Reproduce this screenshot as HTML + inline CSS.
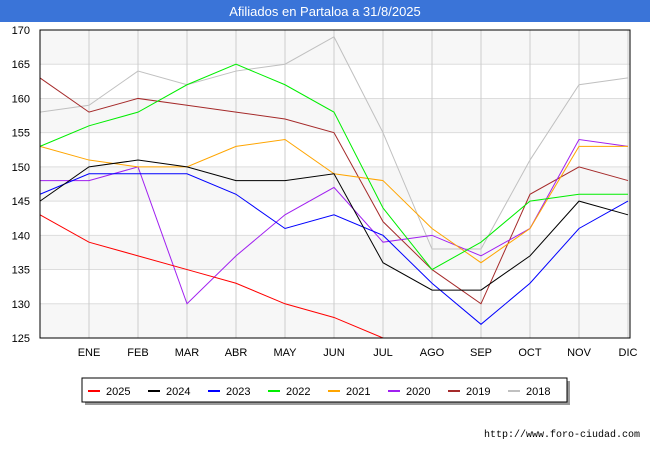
<!DOCTYPE html>
<html><head><meta charset="utf-8"><style>
body{margin:0;background:#fff;font-family:"Liberation Sans",sans-serif}
</style></head><body>
<svg width="650" height="450" xmlns="http://www.w3.org/2000/svg">
<rect x="0" y="0" width="650" height="22" fill="#3a74d8"/>
<text x="325" y="16" text-anchor="middle" fill="#fff" font-size="13" font-family="Liberation Sans, sans-serif">Afiliados en Partaloa a 31/8/2025</text>
<g id="grid"></g>
<g id="series"></g>
<rect x="40" y="30" width="590" height="308" fill="none" stroke="#000" stroke-width="1"/>
<g id="legend"></g>
<text x="640" y="437" text-anchor="end" font-size="10" fill="#000" font-family="Liberation Mono, monospace">http://www.foro-ciudad.com</text>
</svg>
<script>
const months=["","ENE","FEB","MAR","ABR","MAY","JUN","JUL","AGO","SEP","OCT","NOV","DIC"];
const yTicks=[125,130,135,140,145,150,155,160,165,170];
const names=["2025","2024","2023","2022","2021","2020","2019","2018"];
const colors=["#ff0000","#000000","#0000ff","#00ee00","#ffa500","#a020f0","#a52a2a","#c0c0c0"];
const s2025=[143,139,137,135,133,130,128,125];
const s2024=[145,150,151,150,148,148,149,136,132,132,137,145,143];
const s2023=[146,149,149,149,146,141,143,140,133,127,133,141,145];
const s2022=[153,156,158,162,165,162,158,144,135,139,145,146,146];
const s2021=[153,151,150,150,153,154,149,148,141,136,141,153,153];
const s2020=[148,148,150,130,137,143,147,139,140,137,141,154,153];
const s2019=[163,158,160,159,158,157,155,142,135,130,146,150,148];
const s2018=[158,159,164,162,164,165,169,155,138,138,151,162,163];
const allSeries=[s2025,s2024,s2023,s2022,s2021,s2020,s2019,s2018];
const NS="http://www.w3.org/2000/svg";
const X=i=>40+i*49;
const Y=v=>30+(170-v)*308/45;
function mk(t,a,p){const e=document.createElementNS(NS,t);for(const k in a)e.setAttribute(k,a[k]);p.appendChild(e);return e;}
const grid=document.getElementById('grid');
for(let i=0;i<yTicks.length-1;i++){
  const b=mk('rect',{x:40,y:Y(yTicks[i+1]),width:590,height:Y(yTicks[i])-Y(yTicks[i+1]),fill:(i%2==0)?'#f7f7f7':'#ffffff'},grid);
  
  
}
yTicks.forEach(v=>{
  const l=mk('line',{x1:40,x2:630,y1:Y(v),y2:Y(v),stroke:'#dddddd'},grid);
  
  
  const t=mk('text',{x:30,y:Y(v)+4,'text-anchor':'end','font-size':11,'font-family':'Liberation Sans, sans-serif'},grid);
  t.textContent=v;
  
  
});
months.forEach((m,i)=>{
  if(i==0)return;
  const l=mk('line',{x1:X(i),x2:X(i),y1:30,y2:338,stroke:'#cccccc'},grid);
  
  
  const t=mk('text',{x:X(i),y:356,'text-anchor':'middle','font-size':11,'font-family':'Liberation Sans, sans-serif'},grid);
  t.textContent=m;
  
  
});
const sg=document.getElementById('series');
allSeries.slice().reverse().forEach((s,ri)=>{
  const k=allSeries.length-1-ri;
  const p=mk('polyline',{points:s.map((v,i)=>X(i)+','+Y(v)).join(' '),fill:'none',stroke:colors[k],'stroke-width':1},sg);
  
  
});
const lg=document.getElementById('legend');
mk('rect',{x:85,y:381,width:485,height:24,fill:'#999'},lg);
const box=mk('rect',{x:82,y:378,width:485,height:24,fill:'#fff',stroke:'#000'},lg);


names.forEach((n,i)=>{
  const x=88+i*60;
  const l=mk('line',{x1:x,x2:x+12,y1:391,y2:391,stroke:colors[i],'stroke-width':2},lg);
  
  
  const t=mk('text',{x:x+18,y:395,'font-size':11,'font-family':'Liberation Sans, sans-serif'},lg);
  t.textContent=n;
  
  
});
</script>
</body></html>
